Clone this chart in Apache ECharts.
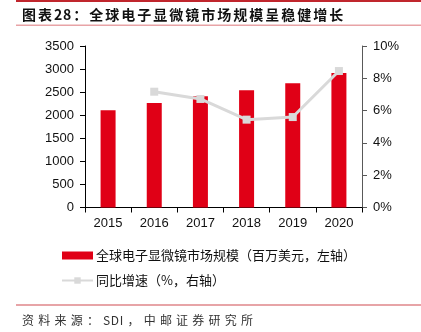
<!DOCTYPE html>
<html><head><meta charset="utf-8">
<script src="https://cdn.jsdelivr.net/npm/echarts@6/dist/echarts.min.js"></script>
<style>
html,body{margin:0;padding:0;background:#fff}
#wrap{position:relative;width:421px;height:332px;overflow:hidden}
#c{position:absolute;left:0;top:0;width:421px;height:332px}
.t{position:absolute;white-space:nowrap;font-family:"Noto Sans CJK SC",sans-serif;line-height:1}
#title{left:22px;top:7px;font-size:14px;font-weight:bold;color:#111}
#src{left:22px;top:314px;font-size:12px;color:#333}
</style>
</head><body><div id="wrap"><div id="c"></div>
<div class="t" id="title"></div>
<div class="t" id="src"></div></div>
<script>
const categories = ['2015','2016','2017','2018','2019','2020'];
const marketSize = [2110, 2265, 2410, 2540, 2692, 2915];
const growth = [null, 7.17, 6.72, 5.44, 5.6, 8.45];
const leftTicks = [0, 3500, 500];
const rightTicks = [0, 10, 2];
const titleText = '图表28：全球电子显微镜市场规模呈稳健增长';
const sourceText = '资料来源：SDI，中邮证券研究所';
const barName = '全球电子显微镜市场规模（百万美元，左轴）';
const lineName = '同比增速（%，右轴）';

// spread text to a target width; ASCII runs stay tight
function fitText(el, text, targetWidth) {
  el.innerHTML = '';
  const chars = Array.from(text);
  const spans = chars.map(ch => {
    const s = document.createElement('span');
    s.textContent = ch;
    s.dataset.ascii = /[\x00-\x7f]/.test(ch) ? '1' : '0';
    el.appendChild(s);
    return s;
  });
  const w = el.getBoundingClientRect().width;
  let wideCount = 0;
  spans.forEach((s, i) => {
    if (i === spans.length - 1) return;
    const nextAscii = spans[i + 1].dataset.ascii === '1';
    if (s.dataset.ascii === '1' && nextAscii) { s.style.letterSpacing = '0.6px'; }
    else { wideCount++; }
  });
  const asciiPairs = spans.length - 1 - wideCount;
  const ls = (targetWidth - w - asciiPairs * 0.6) / wideCount;
  spans.forEach((s, i) => {
    if (i === spans.length - 1) return;
    if (!s.style.letterSpacing) s.style.letterSpacing = ls + 'px';
  });
}
fitText(document.getElementById('title'), titleText, 321);
fitText(document.getElementById('src'), sourceText, 231);

const chart = echarts.init(document.getElementById('c'), null, {renderer:'canvas'});
const cjk = '"Noto Sans CJK SC", sans-serif';
const latin = '"Liberation Sans", Arial, sans-serif';
chart.setOption({
  animation:false,
  graphic:[
    {type:'rect', shape:{x:16,y:0,width:405,height:2}, style:{fill:'#c0262d'}},
    {type:'rect', shape:{x:16,y:24.5,width:405,height:1.5}, style:{fill:'#e8a3a6'}},
    {type:'rect', shape:{x:16,y:304.5,width:405,height:1}, style:{fill:'#d04a50'}}
  ],
  grid:{left:85, right:59, top:46, bottom:124.5, containLabel:false},
  legend:{
    orient:'vertical', left:61, top:249, padding:0, itemGap:12, itemWidth:31, itemHeight:8,
    textStyle:{fontFamily:cjk, fontSize:13, color:'#111', padding:[0,0,0,-2]},
    data:[{name:barName, icon:'rect'}, {name:lineName}]
  },
  xAxis:{
    type:'category', data:categories, boundaryGap:true,
    axisLine:{lineStyle:{color:'#000', width:1}},
    axisTick:{show:true, alignWithLabel:false, length:5, lineStyle:{color:'#000'}},
    axisLabel:{fontFamily:latin, fontSize:13, color:'#111', margin:9}
  },
  yAxis:[
    {type:'value', min:leftTicks[0], max:leftTicks[1], interval:leftTicks[2],
     axisLine:{show:true, lineStyle:{color:'#000'}},
     axisTick:{show:true, length:5, lineStyle:{color:'#000'}},
     splitLine:{show:false},
     axisLabel:{fontFamily:latin, fontSize:13, color:'#111', margin:11, formatter:v => String(v)}},
    {type:'value', min:rightTicks[0], max:rightTicks[1], interval:rightTicks[2],
     axisLine:{show:true, lineStyle:{color:'#595959'}},
     axisTick:{show:true, length:5, inside:false, lineStyle:{color:'#595959'}},
     splitLine:{show:false},
     axisLabel:{fontFamily:latin, fontSize:13, color:'#111', margin:11, formatter:'{value}%'}}
  ],
  series:[
    {name:barName, type:'bar', data:marketSize, barWidth:15, yAxisIndex:0,
     itemStyle:{color:'#e00016'}},
    {name:lineName, type:'line', data:growth, yAxisIndex:1, symbol:'rect', symbolSize:8,
     connectNulls:false,
     lineStyle:{color:'#d9d9d9', width:3}, itemStyle:{color:'#d9d9d9'}}
  ]
});
</script></body></html>
